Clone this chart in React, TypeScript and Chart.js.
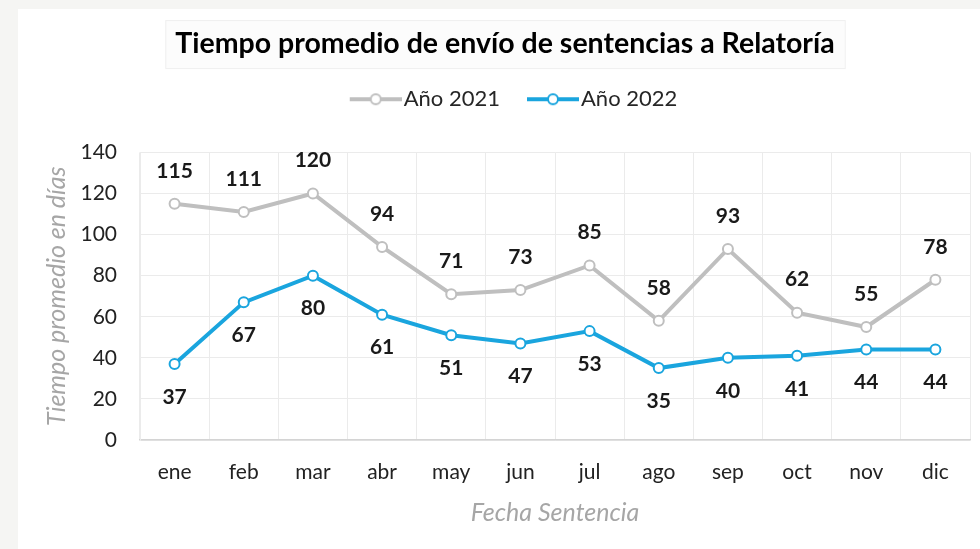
import React, { useEffect, useRef } from 'react';
import { Chart, registerables } from 'chart.js';

Chart.register(...registerables);

const FONT = "Lato, 'Open Sans', sans-serif";

const chartTitle = 'Tiempo promedio de envío de sentencias a Relatoría';
const months = ['ene', 'feb', 'mar', 'abr', 'may', 'jun', 'jul', 'ago', 'sep', 'oct', 'nov', 'dic'];
const seriesNames = ['Año 2021', 'Año 2022'];
const values2021 = [115, 111, 120, 94, 71, 73, 85, 58, 93, 62, 55, 78];
const values2022 = [37, 67, 80, 61, 51, 47, 53, 35, 40, 41, 44, 44];
const yTitle = 'Tiempo promedio en días';
const xTitle = 'Fecha Sentencia';

const GRAY = '#bfbfbf';
const BLUE = '#1aa5de';
const TITLE_SIZE = 28.5;
const TITLE_PAD_TOP = 18;

function makeLegendMarker(color: string) {
  const c = document.createElement('canvas');
  c.width = 78;
  c.height = 14;
  const ctx = c.getContext('2d')!;
  ctx.strokeStyle = color;
  ctx.lineWidth = 4;
  ctx.beginPath();
  ctx.moveTo(26, 7);
  ctx.lineTo(78, 7);
  ctx.stroke();
  ctx.beginPath();
  ctx.arc(52, 7, 5, 0, Math.PI * 2);
  ctx.fillStyle = '#ffffff';
  ctx.fill();
  ctx.lineWidth = 2;
  ctx.stroke();
  return c;
}

const titleBoxPlugin = {
  id: 'titleBox',
  beforeDraw(chart: any) {
    const tb = chart.titleBlock;
    if (!tb) return;
    const ctx = chart.ctx;
    ctx.save();
    ctx.font = `bold ${TITLE_SIZE}px ${FONT}`;
    const w = ctx.measureText(chartTitle).width;
    const cx = tb.left + tb.width / 2;
    const cy = tb.top + TITLE_PAD_TOP + (TITLE_SIZE * 1.2) / 2;
    ctx.fillStyle = '#fcfcfc';
    ctx.strokeStyle = '#efefef';
    ctx.lineWidth = 1;
    ctx.fillRect(cx - w / 2 - 10, cy - 24, w + 20, 48);
    ctx.strokeRect(cx - w / 2 - 10 + 0.5, cy - 24 + 0.5, w + 20, 48);
    ctx.restore();
  },
};

const dataLabelPlugin = {
  id: 'dataLabels',
  afterDatasetsDraw(chart: any) {
    const ctx = chart.ctx;
    ctx.save();
    ctx.font = `bold 21px ${FONT}`;
    ctx.fillStyle = '#1a1a1a';
    ctx.textAlign = 'center';
    ctx.textBaseline = 'middle';
    chart.data.datasets.forEach((ds: any, i: number) => {
      const meta = chart.getDatasetMeta(i);
      const dy = i === 0 ? -33 : 33;
      meta.data.forEach((pt: any, j: number) => {
        ctx.fillText(String(ds.data[j]), pt.x, pt.y + dy);
      });
    });
    ctx.restore();
  },
};

export default function App() {
  const ref = useRef<HTMLCanvasElement | null>(null);

  useEffect(() => {
    if (!ref.current) return;
    const markers = [makeLegendMarker(GRAY), makeLegendMarker(BLUE)];
    const chart = new Chart(ref.current, {
      type: 'line',
      data: {
        labels: months,
        datasets: [
          {
            label: seriesNames[0],
            data: values2021,
            borderColor: GRAY,
            backgroundColor: '#ffffff',
            borderWidth: 4,
            pointRadius: 5,
            pointBorderWidth: 2,
            pointBorderColor: GRAY,
            pointBackgroundColor: '#ffffff',
            tension: 0,
          },
          {
            label: seriesNames[1],
            data: values2022,
            borderColor: BLUE,
            backgroundColor: '#ffffff',
            borderWidth: 4,
            pointRadius: 5,
            pointBorderWidth: 2,
            pointBorderColor: BLUE,
            pointBackgroundColor: '#ffffff',
            tension: 0,
          },
        ],
      },
      options: {
        animation: false,
        responsive: false,
        maintainAspectRatio: false,
        layout: { padding: { left: 22, right: 10, top: 0, bottom: 9 } },
        plugins: {
          title: {
            display: true,
            text: chartTitle,
            color: '#000000',
            font: { family: FONT, size: TITLE_SIZE, weight: 'bold' },
            padding: { top: TITLE_PAD_TOP, bottom: 17 },
          },
          subtitle: {
            display: true,
            text: '',
            weight: 500,
            font: { size: 1 },
            padding: { top: 0, bottom: 31 },
          } as any,
          legend: {
            display: true,
            position: 'top',
            labels: {
              usePointStyle: true,
              pointStyleWidth: 60,
              padding: 10,
              color: '#262626',
              font: { family: FONT, size: 22 },
              generateLabels: (c: any) => {
                const items = (Chart.defaults.plugins.legend.labels as any).generateLabels(c);
                return items.map((it: any, i: number) => ({ ...it, pointStyle: markers[i], fillStyle: 'transparent', strokeStyle: 'transparent' }));
              },
            },
          },
          tooltip: { enabled: false },
        },
        scales: {
          x: {
            offset: true,
            grid: { offset: true, color: '#ebebeb', drawTicks: false, lineWidth: 1 },
            border: { color: '#d4d4d4', width: 1.5 },
            ticks: { color: '#222222', padding: 20, font: { family: FONT, size: 21 } },
            title: {
              display: true,
              text: xTitle,
              color: '#a6a6a6',
              font: { family: FONT, size: 25, style: 'italic' },
              padding: { top: 0, bottom: 12 },
            },
            afterFit: (s: any) => {
              s.height = 100;
            },
          },
          y: {
            min: 0,
            max: 140,
            ticks: { stepSize: 20, color: '#222222', padding: 23, font: { family: FONT, size: 21 } },
            grid: { color: '#ebebeb', drawTicks: false },
            border: { color: '#ebebeb' },
            title: {
              display: true,
              text: yTitle,
              color: '#a6a6a6',
              font: { family: FONT, size: 25, style: 'italic' },
              padding: { top: 2, bottom: 0 },
            },
            afterFit: (s: any) => {
              s.width = 100;
            },
          },
        },
      },
      plugins: [titleBoxPlugin, dataLabelPlugin],
    });
    return () => chart.destroy();
  }, []);

  return (
    <div style={{ position: 'fixed', left: 0, top: 0, width: 980, height: 549, background: '#f5f5f3', overflow: 'hidden' }}>
      <div style={{ position: 'absolute', left: 18, top: 9, width: 962, height: 540, background: '#ffffff' }}>
        <canvas ref={ref} width={962} height={540} style={{ display: 'block', width: 962, height: 540 }} />
      </div>
    </div>
  );
}
